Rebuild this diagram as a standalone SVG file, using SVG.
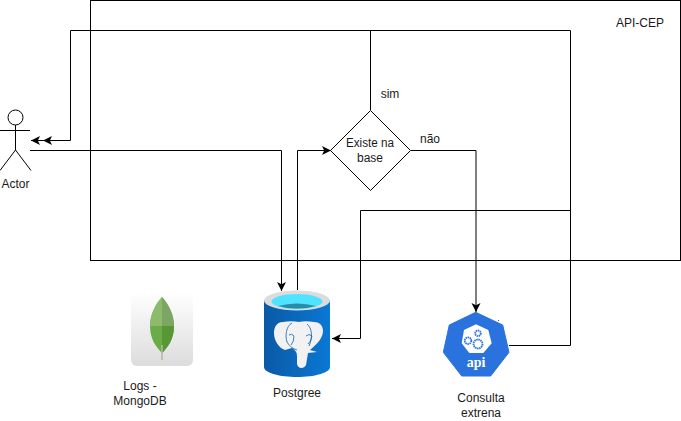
<svg xmlns="http://www.w3.org/2000/svg" width="681" height="421" viewBox="0 0 681 421">
<style>
text{font-family:"Liberation Sans",Arial,sans-serif;font-size:12px;fill:#1a1a1a;text-anchor:middle}
.c{fill:none;stroke:#000;stroke-width:1}
.s{fill:none;stroke:#000;stroke-width:1}
</style>
<defs>
<marker id="a" markerUnits="userSpaceOnUse" markerWidth="10" markerHeight="10" refX="9" refY="4.5" orient="auto"><path d="M0 0L9 4.5L0 9L2.2 4.5Z" fill="#000"/></marker>
<linearGradient id="cyl" x1="0" y1="0" x2="1" y2="0"><stop offset="0" stop-color="#0b59a6"/><stop offset="1" stop-color="#0a78d4"/></linearGradient>
<linearGradient id="card" x1="0" y1="0" x2="0" y2="1"><stop offset="0" stop-color="#ffffff"/><stop offset="1" stop-color="#dcdcdc"/></linearGradient>
</defs>
<rect id="api-cep" x="90.500" y="0.500" width="590" height="260" fill="#fff" stroke="#000"/>
<text x="640" y="27">API-CEP</text>
<g id="connectors">
<path class="c" d="M370.500 110V30.500H70.500V140.500H43" marker-end="url(#a)"/>
<path class="c" d="M70 140.500H31" marker-end="url(#a)"/>
<path class="c" d="M30 150.500H281.500V291" marker-end="url(#a)"/>
<path class="c" d="M297.500 290V150.500H331" marker-end="url(#a)"/>
<path class="c" d="M411 150.500H476V312" marker-end="url(#a)"/>
<path class="c" d="M509 345.500H570.500V30.500H370"/>
<path class="c" d="M570 210.500H360.500V338.500H332" marker-end="url(#a)"/>
</g>
<g id="actor">
<circle class="s" cx="15.500" cy="117.500" r="7.500"/>
<path class="s" d="M15.500 125V150M0 130.500H30M15.500 150L0 170.500M15.500 150L31 170.500"/>
<text x="15.500" y="188">Actor</text>
</g>
<g id="decision">
<path d="M370.500 110.500L410.500 150.500L370.500 190.500L330.500 150.500Z" fill="#fff" stroke="#000"/>
<text x="370" y="147" textLength="48" lengthAdjust="spacingAndGlyphs">Existe na</text>
<text x="370" y="162">base</text>
</g>
<text x="390" y="98">sim</text>
<text x="430" y="143">não</text>
<g id="mongodb">
<rect x="131" y="292" width="62" height="74" rx="6" fill="url(#card)"/>
<path d="M162 297C155 305 150 315 150 326C150 339 156 347 162 353C168 347 174 339 174 326C174 315 169 305 162 297Z" fill="#6cac48"/>
<path d="M162 297C155 305 150 315 150 326H162Z" fill="#8dbb6b"/>
<path d="M162 297C169 305 174 315 174 326H162Z" fill="#7ba663"/>
<path d="M162 326H174C174 339 168 347 162 353Z" fill="#589636"/>
<path d="M162 345V360" stroke="#b5b5a8" stroke-width="1.500"/>
<text x="140" y="390">Logs -</text>
<text x="140" y="405">MongoDB</text>
</g>
<g id="postgres">
<path d="M264 300V367C264 373 280 377 297 377C314 377 330 373 330 367V300Z" fill="url(#cyl)"/>
<ellipse cx="297" cy="300.500" rx="33" ry="10" fill="#dcdcdc"/>
<ellipse cx="297" cy="301.500" rx="25.500" ry="7.500" fill="#4fe3ff"/>
<path d="M278 306Q297 301 316 306Q297 311 278 306Z" fill="#2a8ba8"/>
<path d="M283 322C276 322 274 328 274 333C274 341 279 348 285 350L292 348C295 350 297 352 297 356L297 364C298 369 304 369 306 365L308 353L317 352L310 350C317 344 323 338 323 331C323 325 319 322 314 322C308 321 303 321 299 322C294 321 288 321 283 322Z" fill="#f2f2f2"/>
<path d="M292 323C286 326 285 336 287 342C289 345 291 348 297 350M307 324C312 328 313 337 309 346M289 335Q292 333 294 336Q294 342 291 345M306 336Q309 333 312 336Q311 342 308 344" fill="none" stroke="#0b62b0" stroke-width="0.800"/>
<text x="297" y="397">Postgree</text>
</g>
<g id="api">
<path d="M475.700 312.300L502.700 325L509 352.300L490.700 376H461.700L443.300 352.300L449.300 325Z" fill="#2a72dd" stroke="#2a72dd" stroke-width="1" stroke-linejoin="round"/>
<path d="M476 324.300L488.300 330L491.700 343.300L483.300 353H469.300L461.700 343.300L464 330Z" fill="#fff"/>
<g fill="none" stroke="#2a72dd" stroke-width="1.800" stroke-dasharray="1.500 0.600">
<circle cx="468" cy="340.700" r="3.300"/>
<circle cx="478" cy="333.300" r="2.800"/>
<circle cx="478" cy="344" r="4.500"/>
</g>
<text x="476" y="367" style="font-family:'Liberation Serif',serif;font-size:14px;font-weight:bold;fill:#fff">api</text>
<rect x="498" y="320" width="1" height="1" fill="#555"/>
<text x="481" y="402">Consulta</text>
<text x="481" y="417">extrena</text>
</g>
</svg>
